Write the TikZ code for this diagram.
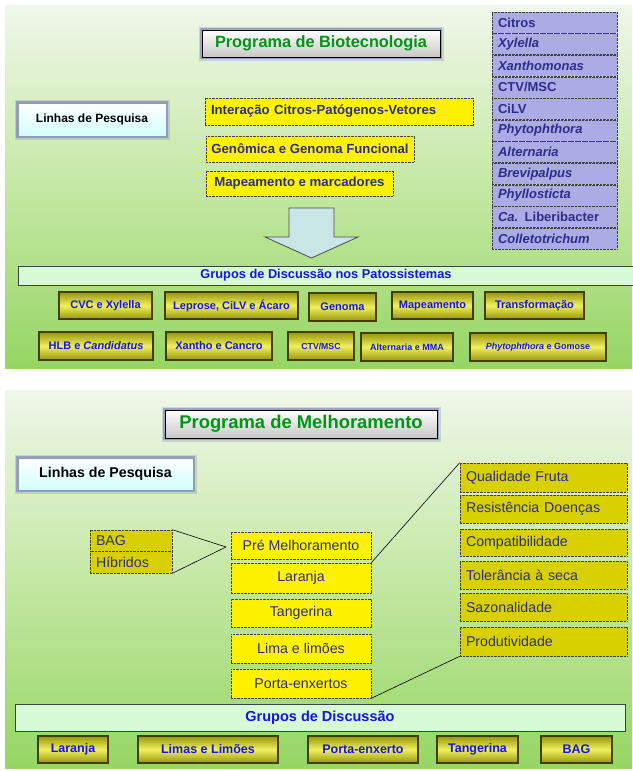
\documentclass[tikz,border=0pt]{standalone}
\usepackage{fontspec}
\setmainfont{Liberation Sans}
\usetikzlibrary{positioning}
\definecolor{pTop}{RGB}{240,247,234}
\definecolor{pMid}{RGB}{196,232,164}
\definecolor{pBot}{RGB}{150,214,100}
\definecolor{ink}{RGB}{45,45,140}
\definecolor{grn}{RGB}{0,150,20}
\definecolor{glowc}{RGB}{95,105,170}
\definecolor{lav}{RGB}{172,172,228}
\definecolor{olv}{RGB}{216,208,0}
\definecolor{bDark}{RGB}{150,150,10}
\definecolor{bLight}{RGB}{240,240,95}
\definecolor{bandc}{RGB}{215,250,215}
\definecolor{blu}{RGB}{20,20,235}
\definecolor{arrc}{RGB}{200,230,230}
\newcommand{\fs}[1]{\fontsize{#1}{#1}\selectfont}
\tikzset{
  every node/.style={inner sep=0pt, font=\fs{12}},
  % Hintergrund
  panel/.style={top color=pTop, bottom color=pBot, middle color=pMid},
  % Titel und Linhas
  glow/.style={preaction={draw=glowc, line width=7pt, opacity=0.22},
    preaction={draw=glowc, line width=4pt, opacity=0.45}},
  titlebox/.style={glow, draw=black, line width=0.9pt, top color=white, bottom color=black!22,
    text=grn, font=\fs{16.3}\bfseries},
  linhas/.style={glow, draw=glowc!70!white, line width=0.8pt, top color=white, bottom color=cyan!18,
    font=\fs{12}\bfseries},
  % gepunktete Felder
  dotted box/.style={draw=black!75, line width=0.6pt, dash pattern=on 0.7pt off 0.7pt},
  ybox/.style={dotted box, fill=yellow, text=ink},
  ybold/.style={ybox, font=\fs{13.2}\bfseries},
  listrow/.style={dotted box, fill=lav, text=ink, font=\fs{13}\bfseries,
    minimum width=125pt, minimum height=21pt, text width=113pt, align=left},
  obox/.style={dotted box, fill=olv, text=ink, font=\fs{14.2},
    minimum width=167pt, text width=155pt, align=left},
  % Gruppen
  band/.style={draw=black!75, line width=0.9pt, fill=bandc, text=blu, font=\fs{12.8}\bfseries},
  grp/.style={draw=black!70!olv, line width=1.1pt, top color=bDark, bottom color=bDark,
    middle color=bLight, text=blu, font=\fs{11}\bfseries},
}
\begin{document}
\begin{tikzpicture}[x=1pt, y=-1pt]
  \useasboundingbox (0,0) rectangle (632,771);
  % ---- Biotecnologia ----
  \fill[panel] (5,5) rectangle (632,368);
  \node[titlebox, minimum width=238pt, minimum height=27pt] (tit1) at (321,43.5) {Programa de Biotecnologia};
  \node[linhas, minimum width=148pt, minimum height=33pt] (lin1) at (92,119.5) {Linhas de Pesquisa};
  \node[ybold, minimum width=268pt, minimum height=27pt, text width=256pt, align=left] (int) at (339,111.5) {Interação Citros-Patógenos-Vetores};
  \node[ybold, minimum width=208pt, minimum height=26pt] (gen) at (310,149) {Genômica e Genoma Funcional};
  \node[ybold, minimum width=187pt, minimum height=25pt] (map) at (299.5,183.5) {Mapeamento e marcadores};
  % Patossistemas
  \node[listrow] (l1) at (554.5,22.5) {Citros};
  \node[listrow, below=0pt of l1] (l2) {\itshape Xylella};
  \node[listrow, below=0pt of l2] (l3) {\itshape Xanthomonas};
  \node[listrow, below=0pt of l3] (l4) {CTV/MSC};
  \node[listrow, below=0pt of l4] (l5) {CiLV};
  \node[listrow, below=0pt of l5] (l6) {\itshape Phytophthora};
  \node[listrow, below=0pt of l6] (l7) {\itshape Alternaria};
  \node[listrow, below=0pt of l7] (l8) {\itshape Brevipalpus};
  \node[listrow, below=0pt of l8] (l9) {\itshape Phyllosticta};
  \node[listrow, below=0pt of l9] (l10) {\textit{Ca.} Liberibacter};
  \node[listrow, below=0pt of l10] (l11) {\itshape Colletotrichum};
  % Blockpfeil
  \draw[fill=arrc, draw=black!70, line width=0.8pt] (289,208) -- (334,208) -- (334,237) -- (358,237)
    -- (311.5,258) -- (265,237) -- (289,237) -- cycle;
  \node[band, minimum width=616pt, minimum height=19pt] (band1) at (326,275.5) {Grupos de Discussão nos Patossistemas};
  \node[grp, minimum width=93pt, minimum height=27pt] (g1) at (105.5,305.5) {CVC e Xylella};
  \node[grp, minimum width=133pt, minimum height=27pt] (g2) at (231.5,305.5) {Leprose, CiLV e Ácaro};
  \node[grp, minimum width=67pt, minimum height=28pt] (g3) at (342.5,307) {Genoma};
  \node[grp, minimum width=81pt, minimum height=27pt] (g4) at (432.5,305.5) {Mapeamento};
  \node[grp, minimum width=99pt, minimum height=27pt] (g5) at (534.5,305.5) {Transformação};
  \node[grp, minimum width=114pt, minimum height=28pt] (g6) at (96,346) {HLB e \textit{Candidatus}};
  \node[grp, minimum width=106pt, minimum height=28pt] (g7) at (219,346) {Xantho e Cancro};
  \node[grp, minimum width=66pt, minimum height=28pt, font=\fs{8.7}\bfseries] (g8) at (321,346) {CTV/MSC};
  \node[grp, minimum width=92pt, minimum height=28pt, font=\fs{9}\bfseries] (g9) at (407,347) {Alternaria e MMA};
  \node[grp, minimum width=136pt, minimum height=28pt, font=\fs{9}\bfseries] (g10) at (538,347) {\textit{Phytophthora} e Gomose};
  % ---- Melhoramento ----
  \fill[panel] (5,390) rectangle (632,768);
  \node[titlebox, minimum width=272pt, minimum height=28pt, font=\fs{18.4}\bfseries] (tit2) at (301,424) {Programa de Melhoramento};
  \node[linhas, minimum width=175pt, minimum height=32pt, font=\fs{14.2}\bfseries] (lin2) at (105.5,474) {Linhas de Pesquisa};
  \node[obox, minimum width=82pt, text width=70pt, minimum height=21pt] (bag) at (131,540.5) {BAG};
  \node[obox, minimum width=82pt, text width=70pt, minimum height=22pt] (hib) at (131,562) {Híbridos};
  \node[ybox, minimum width=140pt, minimum height=27pt, font=\fs{14.2}] (pre) at (301,545.5) {Pré Melhoramento};
  \node[ybox, minimum width=140pt, minimum height=30pt, font=\fs{14.2}] (lar) at (301,578) {Laranja};
  \node[ybox, minimum width=140pt, minimum height=28pt, font=\fs{14.2}] (tan) at (301,613) {Tangerina};
  \node[ybox, minimum width=140pt, minimum height=29pt, font=\fs{14.2}] (lim) at (301,648.5) {Lima e limões};
  \node[ybox, minimum width=140pt, minimum height=29pt, font=\fs{14.2}] (por) at (301,683.5) {Porta-enxertos};
  \node[obox, minimum height=29pt] (qua) at (543.5,477.5) {Qualidade Fruta};
  \node[obox, minimum height=28pt] (res) at (543.5,509) {Resistência Doenças};
  \node[obox, minimum height=27pt] (com) at (543.5,542.5) {Compatibilidade};
  \node[obox, minimum height=28pt] (tol) at (543.5,575) {Tolerância à seca};
  \node[obox, minimum height=28pt] (saz) at (543.5,607) {Sazonalidade};
  \node[obox, minimum height=29pt] (pro) at (543.5,641.5) {Produtividade};
  \coordinate (apex) at (226,547);
  \draw[line width=0.6pt] (bag.north east) -- (apex) -- (hib.south east);
  \draw[line width=0.6pt] (lar.north east) -- (qua.north west);
  \draw[line width=0.6pt] (por.south east) -- (pro.south west);
  \node[band, minimum width=610pt, minimum height=27pt, font=\fs{14.5}\bfseries] (band2) at (320,717.5) {Grupos de Discussão};
  \node[grp, minimum width=70pt, minimum height=27pt, font=\fs{12.5}\bfseries] (d1) at (73,749.5) {Laranja};
  \node[grp, minimum width=140pt, minimum height=27pt, font=\fs{12.5}\bfseries] (d2) at (208,749.5) {Limas e Limões};
  \node[grp, minimum width=110pt, minimum height=27pt, font=\fs{12.5}\bfseries] (d3) at (363,749.5) {Porta-enxerto};
  \node[grp, minimum width=81pt, minimum height=27pt, font=\fs{12.5}\bfseries] (d4) at (477.5,749.5) {Tangerina};
  \node[grp, minimum width=71pt, minimum height=27pt, font=\fs{12.5}\bfseries] (d5) at (576.5,749.5) {BAG};
\end{tikzpicture}
\end{document}
